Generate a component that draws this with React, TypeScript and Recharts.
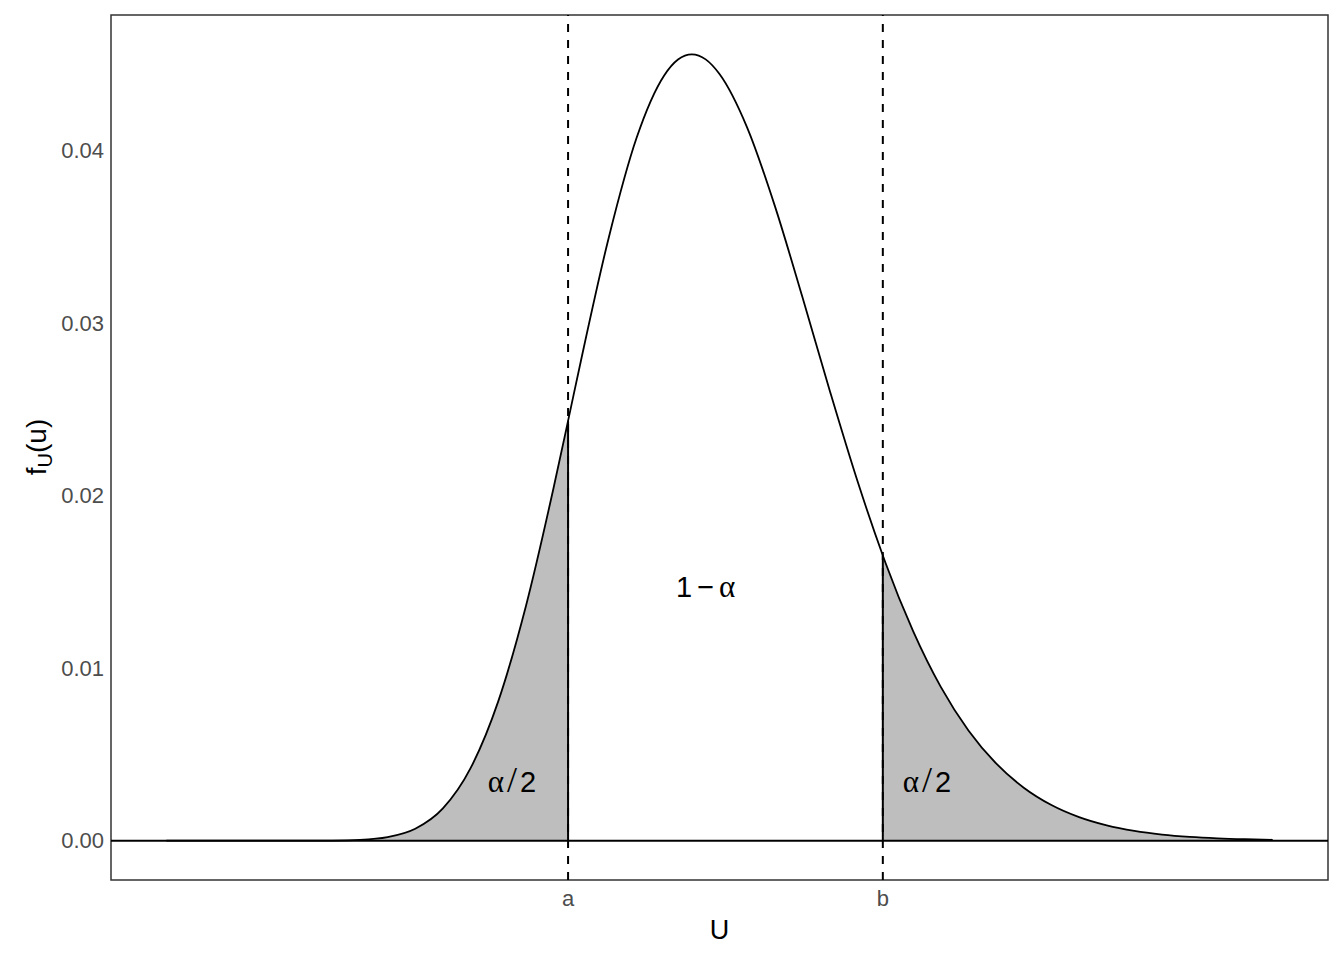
import {
  Area,
  ComposedChart,
  Line,
  ReferenceArea,
  ReferenceDot,
  ReferenceLine,
  XAxis,
  YAxis,
} from "recharts";

// density curve
const uValues = [
  0, 2, 4, 6, 8, 10, 12, 14, 16, 18, 20, 22, 24, 26, 28, 29.05, 30, 32, 34, 36, 37, 38, 39, 40, 42,
  44, 46, 48, 50, 51.81, 52, 54, 56, 58, 60, 62, 64, 66, 68, 70, 72, 74, 76, 78, 80,
];
const densityValues = [
  0, 0, 0, 0, 0, 0.0000005, 0.0000062, 0.0000427, 0.000199, 0.000685, 0.001866, 0.004197,
  0.008066, 0.013582, 0.020431, 0.024318, 0.027876, 0.034958, 0.0407, 0.044327, 0.04525,
  0.045553, 0.04526, 0.044409, 0.041308, 0.036771, 0.031474, 0.025995, 0.020773, 0.016515,
  0.016096, 0.012134, 0.008905, 0.006381, 0.00447, 0.003067, 0.002062, 0.001361, 0.000883,
  0.000563, 0.000354, 0.000219, 0.000134, 0.000081, 0.000048,
];

const cutoffs = [29.05, 51.81];
const cutoffLabels = ["a", "b"];
const cutoffDensity = [0.024318, 0.016515];

const yTicks = [0, 0.01, 0.02, 0.03, 0.04];

const tailLabelPos = [
  { x: 25, y: 0.0034 },
  { x: 55, y: 0.0034 },
];
const centerLabelPos = { x: 39, y: 0.0147 };

const X_DOMAIN: [number, number] = [-4, 84];
const Y_DOMAIN: [number, number] = [-0.00228, 0.04783];

const SANS = "'Liberation Sans', Arial, sans-serif";
const SERIF = "'Liberation Serif', 'Times New Roman', serif";

const chartData = uValues.map((u, i) => ({
  u,
  density: densityValues[i],
  left: u <= cutoffs[0] ? densityValues[i] : null,
  right: u >= cutoffs[1] ? densityValues[i] : null,
}));

function TailLabel({ cx, cy }: { cx?: number; cy?: number }) {
  return (
    <text x={cx} y={cy} dy="0.36em" textAnchor="middle" fontSize={29} fill="#000">
      <tspan fontFamily={SERIF} fontSize={31}>α</tspan>
      <tspan fontFamily={SERIF} fontSize={36} dx={3}>
        /
      </tspan>
      <tspan fontFamily={SANS} dx={3}>
        2
      </tspan>
    </text>
  );
}

function CenterLabel({ cx, cy }: { cx?: number; cy?: number }) {
  return (
    <text x={cx} y={cy} dy="0.36em" textAnchor="middle" fontSize={29} fill="#000">
      <tspan fontFamily={SANS}>1</tspan>
      <tspan fontFamily={SANS} dx={5}>
        −
      </tspan>
      <tspan fontFamily={SERIF} fontSize={31} dx={5}>
        α
      </tspan>
    </text>
  );
}

function XTitle(props: any) {
  const vb = props.viewBox || { x: 111, y: 880, width: 1217, height: 80 };
  return (
    <text
      x={vb.x + vb.width / 2}
      y={929}
      dy="0.36em"
      textAnchor="middle"
      fontFamily={SANS}
      fontSize={27}
      fill="#000"
    >
      U
    </text>
  );
}

function YTitle() {
  const cx = 36;
  const cy = 447;
  return (
    <text
      x={cx}
      y={cy}
      dy="0.36em"
      textAnchor="middle"
      transform={`rotate(-90, ${cx}, ${cy})`}
      fontFamily={SANS}
      fontSize={28}
      fill="#000"
    >
      f
      <tspan fontSize={20} dy={6}>
        U
      </tspan>
      <tspan dy={-6}>(u)</tspan>
    </text>
  );
}

export default function App() {
  return (
    <div style={{ position: "absolute", left: 0, top: 0, width: 1344, height: 960, background: "#fff" }}>
      <ComposedChart
        width={1344}
        height={960}
        data={chartData}
        margin={{ top: 15, right: 16, bottom: 0, left: 0 }}
      >
        <XAxis
          dataKey="u"
          type="number"
          domain={X_DOMAIN}
          allowDataOverflow
          ticks={cutoffs}
          tickFormatter={(v: number) => cutoffLabels[cutoffs.indexOf(v)] ?? ""}
          tick={{ fill: "#4d4d4d", fontSize: 22, fontFamily: SANS }}
          tickLine={false}
          axisLine={false}
          tickSize={0}
          tickMargin={10}
          height={80}
          label={<XTitle />}
        />
        <YAxis
          type="number"
          domain={Y_DOMAIN}
          allowDataOverflow
          ticks={yTicks}
          tickFormatter={(v: number) => v.toFixed(2)}
          tick={{ fill: "#4d4d4d", fontSize: 22, fontFamily: SANS }}
          tickLine={false}
          axisLine={false}
          tickSize={0}
          tickMargin={7}
          width={111}
          label={<YTitle />}
        />
        <Area
          dataKey="left"
          type="monotone"
          fill="#bebebe"
          fillOpacity={1}
          stroke="none"
          baseValue={0}
          isAnimationActive={false}
        />
        <Area
          dataKey="right"
          type="monotone"
          fill="#bebebe"
          fillOpacity={1}
          stroke="none"
          baseValue={0}
          isAnimationActive={false}
        />
        <ReferenceLine y={0} stroke="#000" strokeWidth={2} />
        {cutoffs.map((c) => (
          <ReferenceLine key={`d${c}`} x={c} stroke="#000" strokeWidth={2} strokeDasharray="8 8" />
        ))}
        {cutoffs.map((c, i) => (
          <ReferenceLine
            key={`s${c}`}
            segment={[
              { x: c, y: 0 },
              { x: c, y: cutoffDensity[i] },
            ]}
            stroke="#000"
            strokeWidth={2}
          />
        ))}
        <Line
          dataKey="density"
          type="monotone"
          stroke="#000"
          strokeWidth={1.8}
          dot={false}
          activeDot={false}
          isAnimationActive={false}
        />
        {tailLabelPos.map((p) => (
          <ReferenceDot key={p.x} x={p.x} y={p.y} r={0} shape={(s: any) => <TailLabel cx={s.cx} cy={s.cy} />} />
        ))}
        <ReferenceDot
          x={centerLabelPos.x}
          y={centerLabelPos.y}
          r={0}
          shape={(s: any) => <CenterLabel cx={s.cx} cy={s.cy} />}
        />
        <ReferenceArea
          x1={X_DOMAIN[0]}
          x2={X_DOMAIN[1]}
          y1={Y_DOMAIN[0]}
          y2={Y_DOMAIN[1]}
          fill="none"
          stroke="#333333"
          strokeWidth={1.5}
        />
      </ComposedChart>
    </div>
  );
}
